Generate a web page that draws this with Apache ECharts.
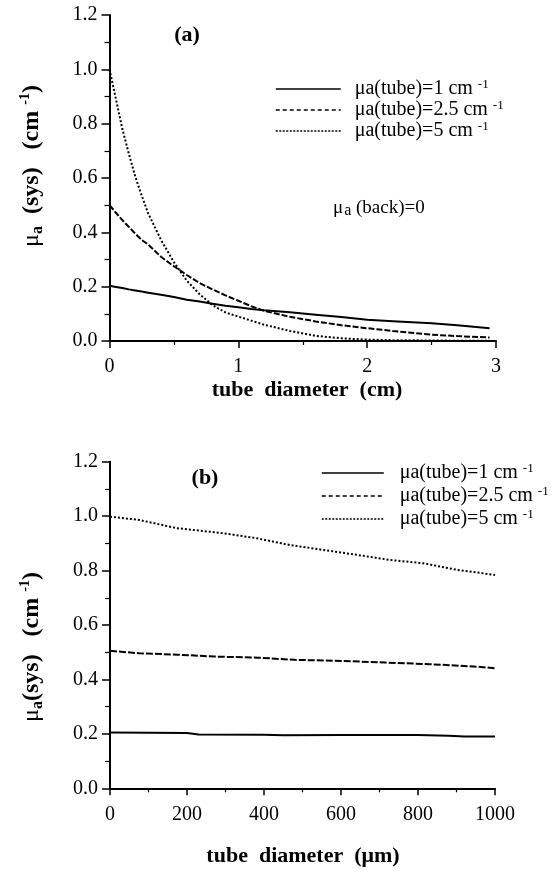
<!DOCTYPE html>
<html>
<head>
<meta charset="utf-8">
<script src="https://cdn.jsdelivr.net/npm/echarts@6/dist/echarts.min.js"></script>
<style>
html,body{margin:0;padding:0;background:#fff;}
#chart{width:558px;height:869px;}
</style>
</head>
<body>
<div id="chart"></div>
<script>
// ---------- DATA ----------
// Panel (a): tube diameter in cm
const aX = [0,0.05,0.1,0.15,0.2,0.25,0.3,0.4,0.5,0.6,0.7,0.8,0.9,1.0,1.1,1.2,1.4,1.6,1.8,2.0,2.2,2.5,2.7,2.95];
const aTube1  = [0.203,0.199,0.195,0.190,0.186,0.182,0.178,0.170,0.162,0.152,0.145,0.137,0.130,0.124,0.118,0.113,0.106,0.097,0.088,0.078,0.073,0.065,0.058,0.047];
const aTube25 = [0.500,0.472,0.445,0.420,0.395,0.372,0.355,0.310,0.275,0.243,0.213,0.190,0.168,0.148,0.128,0.111,0.089,0.072,0.058,0.047,0.037,0.023,0.018,0.013];
const aTube5  = [1.000,0.890,0.780,0.690,0.605,0.535,0.470,0.372,0.290,0.222,0.172,0.132,0.105,0.090,0.075,0.060,0.037,0.019,0.010,0.005,0.003,0.002,0.001,0.001];

// Panel (b): tube diameter in micrometres
const bX1     = [0,100,200,230,400,450,600,800,880,920,1000];
const bTube1  = [0.205,0.204,0.203,0.198,0.197,0.195,0.196,0.196,0.193,0.190,0.190];
const bX25    = [0,76,176,271,384,480,601,714,831,952,1000];
const bTube25 = [0.505,0.496,0.491,0.484,0.480,0.472,0.468,0.462,0.456,0.447,0.441];
const bX5     = [0,76,172,293,380,467,553,640,727,813,900,1000];
const bTube5  = [0.998,0.986,0.956,0.9375,0.919,0.894,0.876,0.858,0.839,0.827,0.803,0.784];

const legendLabels = ['1', '2.5', '5'];
const yTicksMax = 1.2;

// ---------- HELPERS ----------
const FONT = "'Liberation Serif','Times New Roman',serif";
const pair = (xs, ys) => xs.map((x, i) => [x, ys[i]]);

const lineTypes = {
  a: ['solid', [6, 2], [2, 2]],
  b: ['solid', [7, 2], [2, 2]]
};
const legendTypes = ['solid', [4, 3], [2, 1.5]];

function mkSeries(name, data, xi, yi, type) {
  return {
    type: 'line', name, data, xAxisIndex: xi, yAxisIndex: yi,
    symbol: 'none', showSymbol: false, smooth: false,
    lineStyle: { color: '#000', width: 2, type },
    emphasis: { disabled: true }, silent: true
  };
}

function xAxis(gi, max, interval) {
  return {
    type: 'value', gridIndex: gi, min: 0, max, interval,
    axisLine: { show: true, onZero: false, lineStyle: { color: '#000', width: 2 } },
    axisTick: { show: true, length: 7, lineStyle: { color: '#000', width: 1.5 } },
    minorTick: { show: true, splitNumber: 2, length: 4, lineStyle: { color: '#000', width: 1.2 } },
    splitLine: { show: false },
    axisLabel: { color: '#000', fontFamily: FONT, fontSize: 20, margin: 16,
      formatter: v => String(v) }
  };
}
function yAxis(gi) {
  return {
    type: 'value', gridIndex: gi, min: 0, max: yTicksMax, interval: 0.2,
    axisLine: { show: true, onZero: false, lineStyle: { color: '#000', width: 2 } },
    axisTick: { show: true, length: 8, lineStyle: { color: '#000', width: 1.5 } },
    minorTick: { show: true, splitNumber: 2, length: 5, lineStyle: { color: '#000', width: 1.2 } },
    splitLine: { show: false },
    axisLabel: { color: '#000', fontFamily: FONT, fontSize: 20, margin: 12,
      formatter: v => v.toFixed(1) }
  };
}

const legendRich = {
  t: { fontFamily: FONT, fontSize: 20, color: '#000', lineHeight: 22 },
  sup: { fontFamily: FONT, fontSize: 13, color: '#000', verticalAlign: 'top', lineHeight: 22, padding: [0,0,6,0] }
};
function legendText(i) {
  return '{t|\u03bca(tube)=' + legendLabels[i] + ' cm }{sup|-1}';
}

const sA = ['a1', 'a2', 'a3'];
const sB = ['b1', 'b2', 'b3'];

const series = [
  mkSeries(sA[0], pair(aX, aTube1), 0, 0, lineTypes.a[0]),
  mkSeries(sA[1], pair(aX, aTube25), 0, 0, lineTypes.a[1]),
  mkSeries(sA[2], pair(aX, aTube5), 0, 0, lineTypes.a[2]),
  mkSeries(sB[0], pair(bX1, bTube1), 1, 1, lineTypes.b[0]),
  mkSeries(sB[1], pair(bX25, bTube25), 1, 1, lineTypes.b[1]),
  mkSeries(sB[2], pair(bX5, bTube5), 1, 1, lineTypes.b[2])
];

function mkLegend(names, left, top, gap, itemW, txtGap) {
  return {
    orient: 'vertical', left, top, itemWidth: itemW, itemHeight: 22, itemGap: gap,
    selectedMode: false,
    data: names.map((n, i) => ({ name: n,
      lineStyle: { color: '#000', width: 1.5, type: legendTypes[i] } })),
    formatter: n => legendText(names.indexOf(n)),
    textStyle: { rich: legendRich, padding: [0,0,0,txtGap-11] },
    itemStyle: { opacity: 0 }
  };
}

const titleRich = {
  b: { fontFamily: FONT, fontSize: 24, fontWeight: 'bold', color: '#000', lineHeight: 28 },
  mu: { fontFamily: FONT, fontSize: 24, color: '#000', lineHeight: 28 },
  sub: { fontFamily: FONT, fontSize: 16, fontWeight: 'bold', color: '#000', lineHeight: 28, verticalAlign: 'bottom', padding: [6,0,0,0] },
  sup: { fontFamily: FONT, fontSize: 14, fontWeight: 'bold', color: '#000', lineHeight: 28, verticalAlign: 'top', padding: [0,0,8,0] }
};

const option = {
  animation: false,
  backgroundColor: '#fff',
  grid: [
    { left: 109.5, top: 15, width: 386.5, height: 326 },
    { left: 110, top: 461.7, width: 385, height: 326.6 }
  ],
  xAxis: [xAxis(0, 3, 1), xAxis(1, 1000, 200)],
  yAxis: [yAxis(0), yAxis(1)],
  legend: [
    mkLegend(sA, 270, 73, 0, 65, 20),
    mkLegend(sB, 316, 457, 2, 62, 22)
  ],
  series,
  graphic: [
    { type: 'text', x: 187, y: 35, style: { text: '(a)', font: 'bold 22px ' + FONT, fill: '#000', align: 'center', verticalAlign: 'middle' } },
    { type: 'text', x: 205, y: 478, style: { text: '(b)', font: 'bold 22px ' + FONT, fill: '#000', align: 'center', verticalAlign: 'middle' } },
    { type: 'text', x: 333, y: 208, style: {
        text: '{m|\u03bc}{s|a}{m| (back)=0}', verticalAlign: 'middle',
        rich: {
          m: { fontFamily: FONT, fontSize: 19, color: '#000', lineHeight: 22 },
          s: { fontFamily: FONT, fontSize: 16, color: '#000', lineHeight: 22, verticalAlign: 'bottom', padding: [5,0,0,1] }
        } } },
    { type: 'text', x: 307, y: 390, style: { text: 'tube  diameter  (cm)', font: 'bold 22px ' + FONT, fill: '#000', align: 'center', verticalAlign: 'middle' } },
    { type: 'text', x: 303, y: 856, style: { text: 'tube  diameter  (\u03bcm)', font: 'bold 22px ' + FONT, fill: '#000', align: 'center', verticalAlign: 'middle' } },
    { type: 'text', x: 32, y: 166, rotation: Math.PI / 2, style: {
        text: '{mu|\u03bc}{sub|a}{b|  (sys)   (cm }{sup|-1}{b|)}', align: 'center', verticalAlign: 'middle', rich: titleRich } },
    { type: 'text', x: 32, y: 647, rotation: Math.PI / 2, style: {
        text: '{mu|\u03bc}{sub|a}{b|(sys)   (cm }{sup|-1}{b|)}', align: 'center', verticalAlign: 'middle', rich: titleRich } }
  ]
};

const chart = echarts.init(document.getElementById('chart'), null, { renderer: 'canvas' });
chart.setOption(option);
</script>
</body>
</html>
